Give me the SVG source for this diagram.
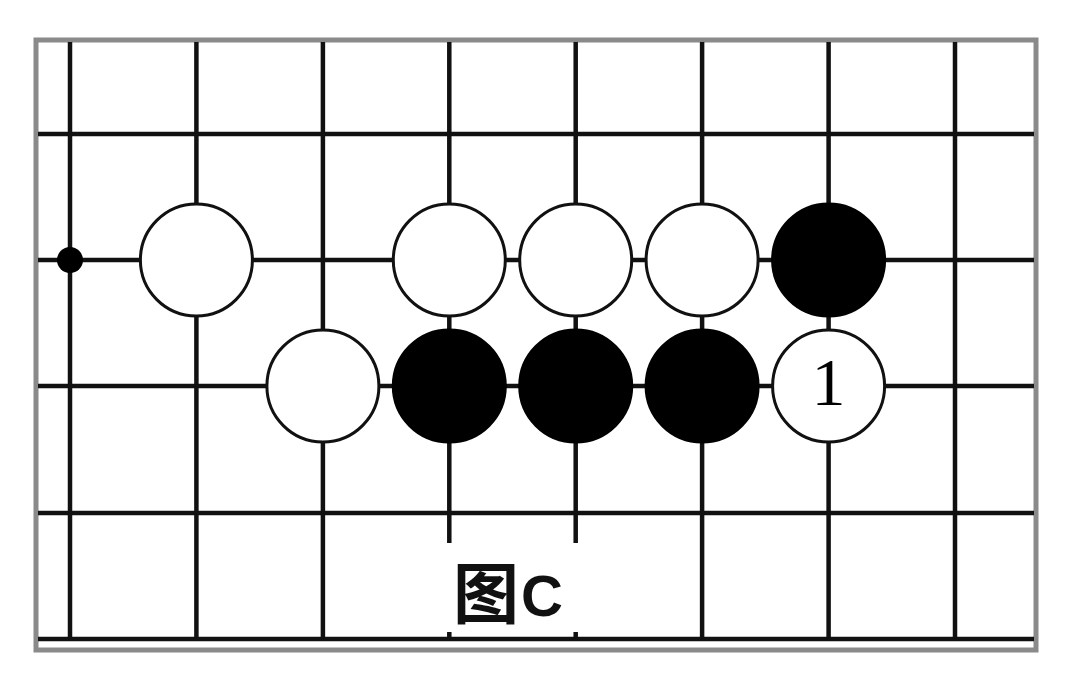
<svg xmlns="http://www.w3.org/2000/svg" width="1072" height="678" viewBox="0 0 1072 678">
<style>
.g{stroke:#111;stroke-width:4.5;fill:none}
.w{fill:#fff;stroke:#111;stroke-width:3}
.b{fill:#000;stroke:#000;stroke-width:3}
</style>
<rect x="0" y="0" width="1072" height="678" fill="#fff"/>
<rect x="36" y="40" width="1000" height="610" fill="#fff" stroke="#8a8a8a" stroke-width="5"/>
<g id="grid" class="g">
<line x1="38" y1="134" x2="1034" y2="134"/>
<line x1="38" y1="260" x2="1034" y2="260"/>
<line x1="38" y1="386" x2="1034" y2="386"/>
<line x1="38" y1="513" x2="1034" y2="513"/>
<line x1="38" y1="639" x2="1034" y2="639"/>
<line x1="70" y1="42" x2="70" y2="639"/>
<line x1="196.4" y1="42" x2="196.4" y2="639"/>
<line x1="322.9" y1="42" x2="322.9" y2="639"/>
<line x1="449.3" y1="42" x2="449.3" y2="543"/>
<line x1="449.3" y1="632" x2="449.3" y2="639"/>
<line x1="575.7" y1="42" x2="575.7" y2="543"/>
<line x1="575.7" y1="632" x2="575.7" y2="639"/>
<line x1="702.1" y1="42" x2="702.1" y2="639"/>
<line x1="828.6" y1="42" x2="828.6" y2="639"/>
<line x1="955" y1="42" x2="955" y2="639"/>
</g>
<g id="star"><circle cx="70" cy="260" r="13" fill="#000"/></g>
<g id="w1"><circle class="w" cx="196.4" cy="260" r="56"/></g>
<g id="w2"><circle class="w" cx="449.3" cy="260" r="56"/></g>
<g id="w3"><circle class="w" cx="575.7" cy="260" r="56"/></g>
<g id="w4"><circle class="w" cx="702.1" cy="260" r="56"/></g>
<g id="b1"><circle class="b" cx="828.6" cy="260" r="56"/></g>
<g id="w5"><circle class="w" cx="322.9" cy="386" r="56"/></g>
<g id="b2"><circle class="b" cx="449.3" cy="386" r="56"/></g>
<g id="b3"><circle class="b" cx="575.7" cy="386" r="56"/></g>
<g id="b4"><circle class="b" cx="702.1" cy="386" r="56"/></g>
<g id="w6"><circle class="w" cx="828.6" cy="386" r="56"/>
<text x="828.6" y="405" text-anchor="middle" font-family="Liberation Serif, serif" font-size="68" fill="#000">1</text></g>
<g id="caption">
<text x="453" y="618" font-family="Noto Sans CJK SC, sans-serif" font-weight="bold" font-size="66" fill="#111">图</text>
<text x="521" y="616" font-family="Liberation Sans, sans-serif" font-weight="bold" font-size="58" fill="#111">C</text>
</g>
</svg>
